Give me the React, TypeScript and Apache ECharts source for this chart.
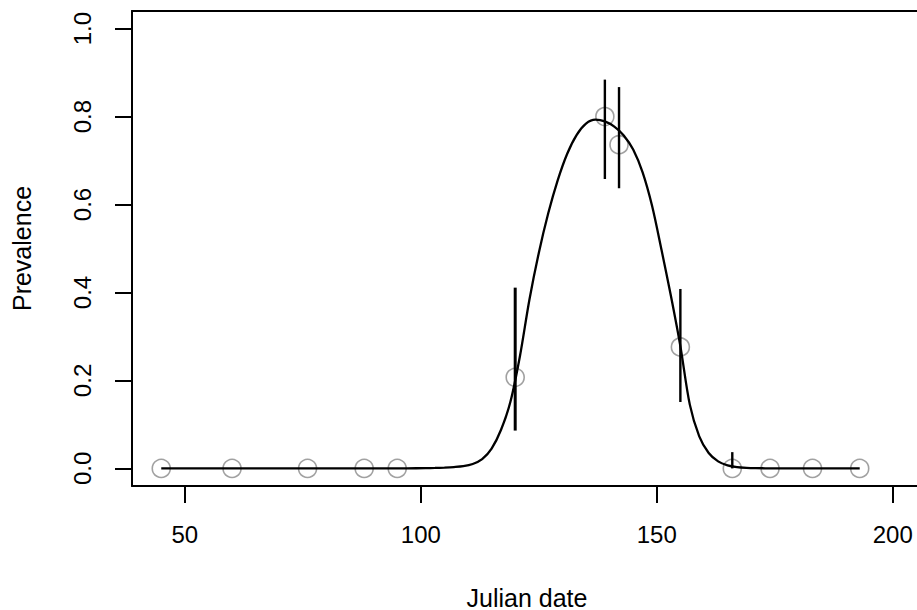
import React, { useEffect, useRef } from "react";
import * as echarts from "echarts";

// Observed data points (Julian date, prevalence)
const pointX = [45, 60, 76, 88, 95, 120, 139, 142, 155, 166, 174, 183, 193];
const pointY = [0, 0, 0, 0, 0, 0.207, 0.8, 0.736, 0.276, 0, 0, 0, 0];

// Error bars (vertical confidence intervals)
const errX = [120, 139, 142, 155, 166];
const errLow = [0.086, 0.658, 0.637, 0.151, 0];
const errHigh = [0.411, 0.884, 0.867, 0.408, 0.037];

// Fitted curve
const curveX = [45, 60, 75, 90, 97, 101, 103, 105, 107, 109, 111, 113, 115, 117, 119, 121, 123, 125, 127, 129, 131, 133, 135, 137, 139, 141, 143, 145, 147, 149, 151, 153, 155, 157, 159, 161, 163, 165, 167, 169, 171, 175, 180, 193];
const curveY = [0, 0, 0, 0, 0.0002, 0.0006, 0.001, 0.0018, 0.003, 0.005, 0.01, 0.021, 0.045, 0.088, 0.152, 0.255, 0.383, 0.49, 0.58, 0.655, 0.715, 0.758, 0.784, 0.793, 0.789, 0.777, 0.757, 0.725, 0.673, 0.597, 0.497, 0.392, 0.278, 0.145, 0.073, 0.035, 0.016, 0.007, 0.003, 0.0013, 0.0006, 0.0001, 0, 0];

// Tick labels
const xTicks = [50, 100, 150, 200];
const yTicks = [0, 0.2, 0.4, 0.6, 0.8, 1.0];

const FONT = "Liberation Sans, Arial, Helvetica, sans-serif";

export default function App() {
  const ref = useRef<HTMLDivElement>(null);
  useEffect(() => {
    if (!ref.current) return;
    const chart = echarts.init(ref.current, undefined, { renderer: "svg" });
    const xMin = 38.8;
    const xMax = 206.2;
    const axisLineStyle = { color: "#000", width: 2 };
    chart.setOption({
      animation: false,
      backgroundColor: "#fff",
      grid: { left: 132, top: 11, width: 790, height: 475, containLabel: false, outerBoundsMode: "none" },
      xAxis: [
        {
          type: "value",
          min: xMin,
          max: xMax,
          position: "bottom",
          axisLine: { show: true, onZero: false, lineStyle: axisLineStyle },
          axisTick: { show: true, inside: false, length: 17, lineStyle: axisLineStyle, customValues: xTicks },
          axisLabel: { show: true, margin: 36, fontSize: 24, color: "#000", fontFamily: FONT, customValues: xTicks, formatter: (v: number) => String(v) },
          splitLine: { show: false },
          name: "Julian date",
          nameLocation: "middle",
          nameGap: 99,
          nameTextStyle: { fontSize: 25, color: "#000", fontFamily: FONT },
        },
        {
          type: "value",
          min: xMin,
          max: xMax,
          position: "top",
          axisLine: { show: true, onZero: false, lineStyle: axisLineStyle },
          axisTick: { show: false },
          axisLabel: { show: false },
          splitLine: { show: false },
        },
      ],
      yAxis: {
        type: "value",
        min: -0.04,
        max: 1.04,
        axisLine: { show: true, onZero: false, lineStyle: axisLineStyle },
        axisTick: { show: true, inside: false, length: 17, lineStyle: axisLineStyle, customValues: yTicks },
        axisLabel: { show: true, rotate: 90, margin: 38, fontSize: 24, color: "#000", fontFamily: FONT, customValues: yTicks, formatter: (v: number) => v.toFixed(1) },
        splitLine: { show: false },
        name: "Prevalence",
        nameLocation: "middle",
        nameRotate: 90,
        nameGap: 98,
        nameTextStyle: { fontSize: 25, color: "#000", fontFamily: FONT },
      },
      series: [
        {
          type: "scatter",
          data: pointX.map((x, i) => [x, pointY[i]]),
          symbol: "circle",
          symbolSize: 18,
          itemStyle: { color: "rgba(0,0,0,0)", borderColor: "#8a8a8a", borderWidth: 1.6 },
          z: 2,
        },
        {
          type: "line",
          data: curveX.map((x, i) => [x, curveY[i]]),
          smooth: 0.3,
          showSymbol: false,
          symbol: "none",
          lineStyle: { color: "#000", width: 2.3 },
          z: 3,
        },
        {
          type: "custom",
          data: errX.map((x, i) => [x, errLow[i], errHigh[i]]),
          encode: { x: 0, y: [1, 2] },
          renderItem: (params: any, api: any) => {
            const x = api.value(0);
            const p1 = api.coord([x, api.value(1)]);
            const p2 = api.coord([x, api.value(2)]);
            return {
              type: "line",
              shape: { x1: p1[0], y1: p1[1], x2: p2[0], y2: p2[1] },
              style: { stroke: "#000", lineWidth: params.dataIndex === 0 ? 3 : 2.4 },
            };
          },
          z: 4,
        },
      ],
    });
    return () => chart.dispose();
  }, []);
  return <div ref={ref} style={{ position: "absolute", left: 0, top: 0, width: 917, height: 610 }} />;
}
